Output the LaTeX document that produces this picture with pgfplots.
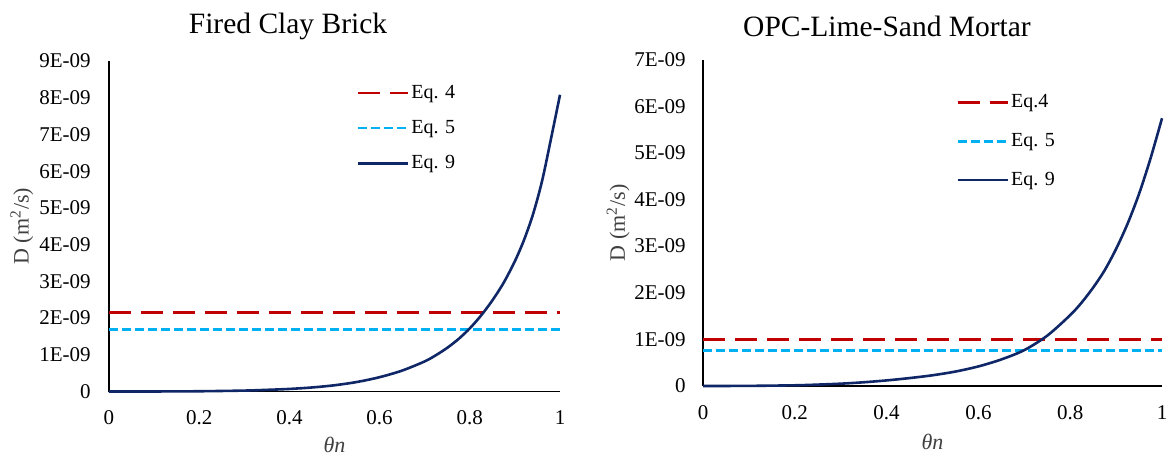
\documentclass[border=0pt]{standalone}
\usepackage{fontspec}
\setmainfont{Liberation Serif}
\usepackage{pgfplots}
\pgfplotsset{compat=1.18}

\definecolor{eqred}{HTML}{C00000}
\definecolor{eqblue}{HTML}{00B0F0}
\definecolor{eqnavy}{HTML}{0F2766}
\definecolor{labgray}{HTML}{404040}

% shared look of both panels
\pgfplotsset{
  panel/.style={
    scale only axis,
    anchor=south west,
    axis lines*=left,
    axis line style={black, line width=0.6pt},
    major tick length=0pt,
    xmin=0, xmax=1, ymin=0,
    clip=false,
    scaled y ticks=false,
    xtick={0,0.2,0.4,0.6,0.8,1},
    xticklabels={0,0.2,0.4,0.6,0.8,1},
    tick label style={font=\fontsize{10.5}{12}\selectfont, text=black},
    xticklabel style={anchor=center},
    yticklabel style={anchor=east, inner sep=0pt},
    xlabel={\textit{θn}},
    ylabel={D (m\textsuperscript{2}/s)},
    label style={font=\fontsize{11}{12}\selectfont, text=labgray},
    ylabel style={anchor=center},
    xlabel style={anchor=center},
    title style={font=\fontsize{14.75}{16}\selectfont, anchor=center},
    legend cell align=left,
    legend style={draw=none, fill=none, inner sep=0pt, anchor=north west,
      font=\fontsize{10}{12}\selectfont,
      nodes={inner sep=1pt}},
    legend image code/.code={\draw[#1] (0pt,0pt) -- (25pt,0pt);},
  },
  eqfour/.style={eqred, line width=1.4pt, dash pattern=on 11pt off 5pt},
  eqfive/.style={eqblue, line width=1.3pt, dash pattern=on 4.5pt off 2pt},
  eqnine/.style={eqnavy, line width=1.3pt, smooth},
}

\begin{document}
\begin{tikzpicture}
\useasboundingbox (0,0) rectangle (583.5pt,228.5pt);

% Fired Clay Brick
\begin{axis}[panel,
  at={(54.5pt,32.75pt)},
  width=225.5pt, height=165.25pt,
  ymax=9e-9,
  ytick={0,1e-9,2e-9,3e-9,4e-9,5e-9,6e-9,7e-9,8e-9,9e-9},
  yticklabels={0,1E-09,2E-09,3E-09,4E-09,5E-09,6E-09,7E-09,8E-09,9E-09},
  xticklabel style={yshift=-13pt},
  yticklabel style={xshift=-9pt},
  xlabel style={at={(axis description cs:0.5,-0.163)}},
  ylabel style={at={(axis description cs:-0.193,0.5)}},
  title={Fired Clay Brick},
  title style={at={(rel axis cs:0,1)}, xshift=89.5pt, yshift=11.5pt},
  legend style={at={(rel axis cs:0.548,0.935)}, row sep=7.5pt},
]
\addplot[eqfour] coordinates {(0,2.16e-9) (1,2.16e-9)};
\addlegendentry{Eq. 4}
\addplot[eqfive] coordinates {(0,1.69e-9) (1,1.69e-9)};
\addlegendentry{Eq. 5}
\addplot[eqnine] coordinates {
  (0,0) (0.1,0.001e-9) (0.2,0.007e-9) (0.3,0.025e-9) (0.35,0.045e-9)
  (0.4,0.07e-9) (0.45,0.11e-9) (0.5,0.17e-9) (0.55,0.26e-9)
  (0.6,0.39e-9) (0.65,0.57e-9) (0.7,0.82e-9) (0.725,0.99e-9)
  (0.75,1.19e-9) (0.775,1.43e-9) (0.8,1.72e-9) (0.825,2.07e-9)
  (0.85,2.48e-9) (0.875,2.96e-9) (0.9,3.55e-9) (0.92,4.12e-9)
  (0.94,4.82e-9) (0.96,5.72e-9) (0.98,6.88e-9) (1,8.08e-9)};
\addlegendentry{Eq. 9}
\end{axis}

% OPC-Lime-Sand Mortar
\begin{axis}[panel,
  at={(351.5pt,35.5pt)},
  width=229.5pt, height=163.25pt,
  ymax=7e-9,
  ytick={0,1e-9,2e-9,3e-9,4e-9,5e-9,6e-9,7e-9},
  yticklabels={0,1E-09,2E-09,3E-09,4E-09,5E-09,6E-09,7E-09},
  xticklabel style={yshift=-13.5pt},
  yticklabel style={xshift=-8.5pt},
  xlabel style={at={(axis description cs:0.5,-0.172)}},
  ylabel style={at={(axis description cs:-0.185,0.5)}},
  title={OPC-Lime-Sand Mortar},
  title style={at={(rel axis cs:0,1)}, xshift=92pt, yshift=10.75pt},
  legend style={at={(rel axis cs:0.551,0.9)}, row sep=9.25pt},
]
\addplot[eqfour] coordinates {(0,1.0e-9) (1,1.0e-9)};
\addlegendentry{Eq.4}
\addplot[eqfive] coordinates {(0,0.76e-9) (1,0.76e-9)};
\addlegendentry{Eq. 5}
\addplot[eqnine] coordinates {
  (0,0) (0.1,0.003e-9) (0.2,0.015e-9) (0.25,0.03e-9) (0.3,0.05e-9)
  (0.35,0.08e-9) (0.4,0.12e-9) (0.45,0.17e-9) (0.5,0.23e-9)
  (0.55,0.31e-9) (0.6,0.42e-9) (0.65,0.57e-9) (0.7,0.77e-9)
  (0.75,1.08e-9) (0.8,1.52e-9) (0.825,1.79e-9) (0.85,2.11e-9)
  (0.875,2.48e-9) (0.9,2.94e-9) (0.925,3.48e-9) (0.95,4.12e-9)
  (0.975,4.88e-9) (1,5.74e-9)};
\addlegendentry{Eq. 9}
\end{axis}
\end{tikzpicture}
\end{document}
